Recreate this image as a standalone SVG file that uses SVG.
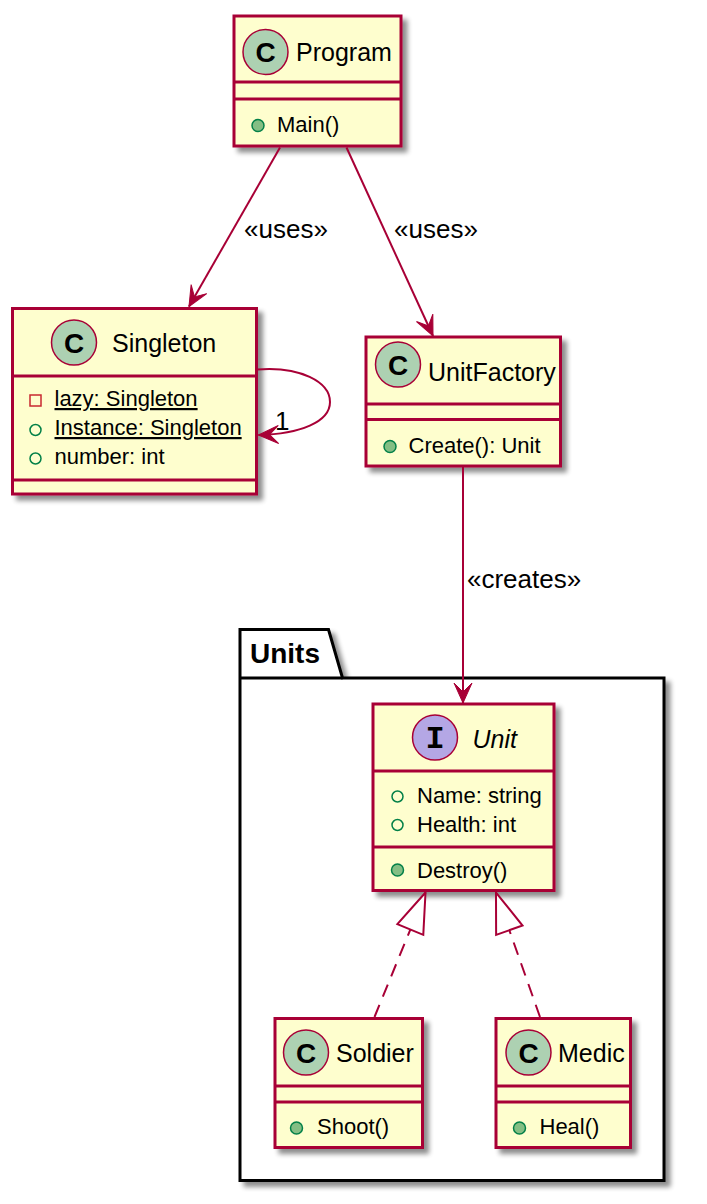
<svg xmlns="http://www.w3.org/2000/svg" width="707" height="1204" viewBox="0 0 707 1204">
<defs>
<style>
.box{fill:#FEFECE;stroke:#A80036;stroke-width:3}
.div{stroke:#A80036;stroke-width:3}
.cc{fill:#ADD1B2;stroke:#A80036;stroke-width:1.5}
.ic{fill:#B4A7E5;stroke:#A80036;stroke-width:1.5}
.cg{font-family:"Liberation Sans",Arial,sans-serif;font-weight:bold;font-size:28px;fill:#000;text-anchor:middle}
.ig{font-family:"Liberation Mono","Courier New",monospace;font-weight:bold;font-size:32px;fill:#000;text-anchor:middle}
.name{font-family:"Liberation Sans",Arial,sans-serif;font-size:25px;fill:#000}
.mem{font-family:"Liberation Sans",Arial,sans-serif;font-size:22px;fill:#000}
.lbl{font-family:"Liberation Sans",Arial,sans-serif;font-size:26px;fill:#000}
.meth{fill:#84BE84;stroke:#038048;stroke-width:1.5}
.pub{fill:none;stroke:#038048;stroke-width:1.5}
.priv{fill:none;stroke:#C82930;stroke-width:1.5}
.edge{fill:none;stroke:#A80036;stroke-width:2}
.dash{stroke-dasharray:13,9}
</style>
<filter id="sh" x="-10%" y="-10%" width="130%" height="130%">
<feGaussianBlur in="SourceAlpha" stdDeviation="2.5"/>
<feOffset dx="5" dy="5"/>
<feComponentTransfer><feFuncA type="linear" slope="0.45"/></feComponentTransfer>
<feMerge><feMergeNode/><feMergeNode in="SourceGraphic"/></feMerge>
</filter>
<marker id="arr" viewBox="-22 -11 24 22" markerWidth="24" markerHeight="22" refX="0" refY="0" orient="auto" markerUnits="userSpaceOnUse">
<path d="M0,0 L-20,-9 L-11,0 L-20,9 Z" fill="#A80036" stroke="#A80036" stroke-width="1"/>
</marker>
<marker id="tri" viewBox="-42 -16 44 32" markerWidth="44" markerHeight="32" refX="0" refY="0" orient="auto" markerUnits="userSpaceOnUse">
<path d="M0,0 L-40,-14 L-40,14 Z" fill="#FFFFFF" stroke="#A80036" stroke-width="2"/>
</marker>
</defs>
<rect width="707" height="1204" fill="#FFFFFF"/>

<g id="pkg-Units">
<path d="M240,629.5 L328.5,629.5 L342.5,678 L664,678 L664,1180.5 L240,1180.5 Z" fill="#FFFFFF" stroke="#000" stroke-width="3" filter="url(#sh)"/>
<line x1="240" y1="678" x2="342.5" y2="678" stroke="#000" stroke-width="3"/>
<text x="250" y="663" font-family="'Liberation Sans',Arial,sans-serif" font-weight="bold" font-size="28">Units</text>
</g>

<g id="Program">
<rect class="box" x="234" y="16" width="167" height="130" filter="url(#sh)"/>
<circle class="cc" cx="265.5" cy="52" r="22.5"/>
<text class="cg" x="265.5" y="62">C</text>
<text class="name" x="296" y="61">Program</text>
<line class="div" x1="234" y1="82" x2="401" y2="82"/>
<line class="div" x1="234" y1="99" x2="401" y2="99"/>
<circle class="meth" cx="258" cy="125.5" r="6"/>
<text class="mem" x="277" y="132">Main()</text>
</g>

<g id="Singleton">
<rect class="box" x="12.5" y="308.5" width="244" height="185.5" filter="url(#sh)"/>
<circle class="cc" cx="74" cy="342.5" r="22.5"/>
<text class="cg" x="74" y="352.5">C</text>
<text class="name" x="112" y="352">Singleton</text>
<line class="div" x1="12.5" y1="376" x2="256.5" y2="376"/>
<rect class="priv" x="30" y="395" width="11" height="11"/>
<text class="mem" x="54.5" y="406" text-decoration="underline">lazy: Singleton</text>
<circle class="pub" cx="35.5" cy="430" r="5.5"/>
<text class="mem" x="54.5" y="435" text-decoration="underline">Instance: Singleton</text>
<circle class="pub" cx="35.5" cy="458.5" r="5.5"/>
<text class="mem" x="54.5" y="464">number: int</text>
<line class="div" x1="12.5" y1="480" x2="256.5" y2="480"/>
</g>

<g id="UnitFactory">
<rect class="box" x="366" y="337" width="194.5" height="129" filter="url(#sh)"/>
<circle class="cc" cx="398" cy="364.5" r="22.5"/>
<text class="cg" x="398" y="374.5">C</text>
<text class="name" x="428" y="381">UnitFactory</text>
<line class="div" x1="366" y1="404" x2="560.5" y2="404"/>
<line class="div" x1="366" y1="419.5" x2="560.5" y2="419.5"/>
<circle class="meth" cx="390" cy="446.5" r="6"/>
<text class="mem" x="408.5" y="453">Create(): Unit</text>
</g>

<g id="Unit">
<rect class="box" x="373" y="704" width="181" height="186.5" filter="url(#sh)"/>
<circle class="ic" cx="435" cy="737.5" r="22.5"/>
<text class="ig" x="435" y="748">I</text>
<text class="name" x="472.5" y="747.5" font-style="italic">Unit</text>
<line class="div" x1="373" y1="771" x2="554" y2="771"/>
<circle class="pub" cx="397.5" cy="796.5" r="5.5"/>
<text class="mem" x="417" y="803">Name: string</text>
<circle class="pub" cx="397.5" cy="825" r="5.5"/>
<text class="mem" x="417" y="831.5">Health: int</text>
<line class="div" x1="373" y1="847" x2="554" y2="847"/>
<circle class="meth" cx="397.5" cy="870" r="6"/>
<text class="mem" x="417" y="878">Destroy()</text>
</g>

<g id="Soldier">
<rect class="box" x="275" y="1018.5" width="147.5" height="129" filter="url(#sh)"/>
<circle class="cc" cx="306" cy="1052.5" r="22.5"/>
<text class="cg" x="306" y="1062.5">C</text>
<text class="name" x="336" y="1062">Soldier</text>
<line class="div" x1="275" y1="1086" x2="422.5" y2="1086"/>
<line class="div" x1="275" y1="1102" x2="422.5" y2="1102"/>
<circle class="meth" cx="296.5" cy="1128" r="6"/>
<text class="mem" x="317" y="1134">Shoot()</text>
</g>

<g id="Medic">
<rect class="box" x="496" y="1018.5" width="134.5" height="129" filter="url(#sh)"/>
<circle class="cc" cx="528.5" cy="1052.5" r="22.5"/>
<text class="cg" x="528.5" y="1062.5">C</text>
<text class="name" x="558" y="1062">Medic</text>
<line class="div" x1="496" y1="1086" x2="630.5" y2="1086"/>
<line class="div" x1="496" y1="1102" x2="630.5" y2="1102"/>
<circle class="meth" cx="519.5" cy="1128" r="6"/>
<text class="mem" x="539.5" y="1134">Heal()</text>
</g>

<g id="connectors">
<path class="edge" d="M280,147.5 L189,306.5" marker-end="url(#arr)"/>
<text class="lbl" x="244" y="238">«uses»</text>
<path class="edge" d="M346.5,147.5 L433,336" marker-end="url(#arr)"/>
<text class="lbl" x="394" y="238">«uses»</text>
<path class="edge" d="M463,467 L463,703" marker-end="url(#arr)"/>
<text class="lbl" x="467" y="588">«creates»</text>
<path class="edge" d="M257,369.5 C300,366 330,382 330,402 C330,422 300,434 258.5,435" marker-end="url(#arr)"/>
<text class="lbl" x="275" y="430" font-size="24">1</text>
<path class="edge dash" d="M374.5,1017 L425.5,892.5" marker-end="url(#tri)"/>
<path class="edge dash" d="M540,1017 L496,892.5" marker-end="url(#tri)"/>
</g>
</svg>
